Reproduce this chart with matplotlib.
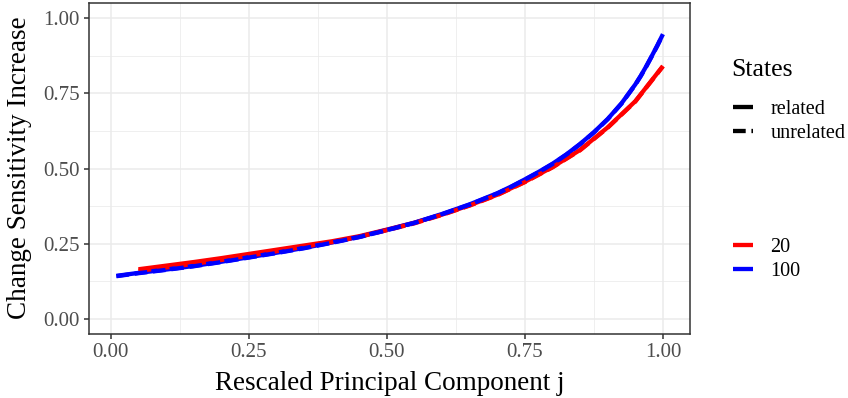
import matplotlib
matplotlib.use("Agg")
import matplotlib.pyplot as plt
from matplotlib.lines import Line2D

plt.rcParams['font.family'] = ['Liberation Serif', 'DejaVu Serif']

# 20 states: one point every 0.05
x20 = [0.05, 0.10, 0.15, 0.20, 0.25, 0.30, 0.35, 0.40, 0.45, 0.50,
       0.55, 0.60, 0.65, 0.70, 0.75, 0.80, 0.85, 0.90, 0.95, 1.00]
y20_related = [0.165, 0.177, 0.189, 0.202, 0.216, 0.230, 0.244, 0.258, 0.275, 0.297,
               0.320, 0.347, 0.378, 0.413, 0.456, 0.505, 0.562, 0.637, 0.724, 0.841]
y20_unrelated = [0.160, 0.171, 0.183, 0.196, 0.210, 0.225, 0.240, 0.255, 0.273, 0.295,
                 0.318, 0.346, 0.377, 0.412, 0.455, 0.504, 0.561, 0.636, 0.723, 0.840]

# 100 states
x100 = [0.01, 0.05, 0.10, 0.15, 0.20, 0.25, 0.30, 0.35, 0.40, 0.45, 0.50, 0.55,
        0.60, 0.65, 0.70, 0.725, 0.75, 0.775, 0.80, 0.825, 0.85, 0.875, 0.90,
        0.925, 0.95, 0.96, 0.97, 0.98, 0.99, 1.00]
y100_related = [0.143, 0.153, 0.164, 0.176, 0.190, 0.205, 0.220, 0.236, 0.254, 0.273,
                0.296, 0.320, 0.349, 0.381, 0.418, 0.440, 0.464, 0.489, 0.516, 0.547,
                0.582, 0.621, 0.665, 0.717, 0.780, 0.809, 0.841, 0.875, 0.910, 0.947]
y100_unrelated = [0.142, 0.152, 0.163, 0.175, 0.189, 0.204, 0.219, 0.235, 0.253, 0.272,
                  0.295, 0.319, 0.348, 0.380, 0.417, 0.439, 0.463, 0.488, 0.515, 0.546,
                  0.581, 0.620, 0.664, 0.716, 0.779, 0.808, 0.840, 0.874, 0.909, 0.946]

ticks = [0.0, 0.25, 0.5, 0.75, 1.0]
tick_labels = ["0.00", "0.25", "0.50", "0.75", "1.00"]
minor = [0.125, 0.375, 0.625, 0.875]

RED = "#FF0000"
BLUE = "#0000FF"
LW = 3.1
DASH = (2.95, 1.33)

fig = plt.figure(figsize=(8.48, 3.98), dpi=100)
ax = fig.add_axes([0.105, 0.161, 0.709, 0.831])

ax.plot(x20, y20_related, color=RED, lw=LW, solid_capstyle="butt", zorder=3)
ax.plot(x100, y100_related, color=BLUE, lw=LW, solid_capstyle="butt", zorder=3)
ax.plot(x20, y20_unrelated, color=RED, lw=LW, dashes=DASH,
        dash_capstyle="butt", zorder=3)
ax.plot(x100, y100_unrelated, color=BLUE, lw=LW, dashes=DASH,
        dash_capstyle="butt", zorder=3)

ax.set_xlim(-0.0395, 1.0495)
ax.set_ylim(-0.05, 1.05)
ax.set_xticks(ticks)
ax.set_xticklabels(tick_labels)
ax.set_yticks(ticks)
ax.set_yticklabels(tick_labels)
ax.set_xticks(minor, minor=True)
ax.set_yticks(minor, minor=True)

# theme_bw look
ax.grid(which="major", color="#EBEBEB", lw=1.1, zorder=0)
ax.grid(which="minor", color="#EBEBEB", lw=0.55, zorder=0)
ax.set_axisbelow(True)
for s in ax.spines.values():
    s.set_color("#333333")
    s.set_linewidth(1.1)
ax.tick_params(which="major", length=3.5, width=1.1, color="#333333",
               labelcolor="#4D4D4D", labelsize=15, pad=3)
ax.tick_params(which="minor", length=0)

# axis titles
fig.text(389.5 / 848, 1 - 390 / 398, "Rescaled Principal Component j",
         fontsize=19.5, ha="center", va="baseline")
fig.text(20 / 848, 1 - 168 / 398, "Change Sensitivity Increase",
         fontsize=19.5, ha="center", va="center", rotation=90)

# legends on the right
fig.text(731 / 848, 1 - 76 / 398, "States", fontsize=18.5, ha="left", va="baseline")

lt_handles = [Line2D([], [], color="black", lw=LW, solid_capstyle="butt"),
              Line2D([], [], color="black", lw=LW, dashes=DASH, dash_capstyle="butt")]
leg1 = fig.legend(lt_handles, ["related", "unrelated"],
                  loc="upper left", bbox_to_anchor=(733 / 848, 1 - 100 / 398),
                  frameon=False, fontsize=14.5,
                  handlelength=1.0, handletextpad=0.85, labelspacing=0.24,
                  borderaxespad=0, borderpad=0)

col_handles = [Line2D([], [], color=RED, lw=LW, solid_capstyle="butt"),
               Line2D([], [], color=BLUE, lw=LW, solid_capstyle="butt")]
leg2 = fig.legend(col_handles, ["20", "100"], loc="upper left",
                  bbox_to_anchor=(733 / 848, 1 - 238 / 398), frameon=False,
                  fontsize=14.5, handlelength=1.0, handletextpad=0.85,
                  labelspacing=0.24, borderaxespad=0, borderpad=0)

fig.savefig("out.png", dpi=100)
